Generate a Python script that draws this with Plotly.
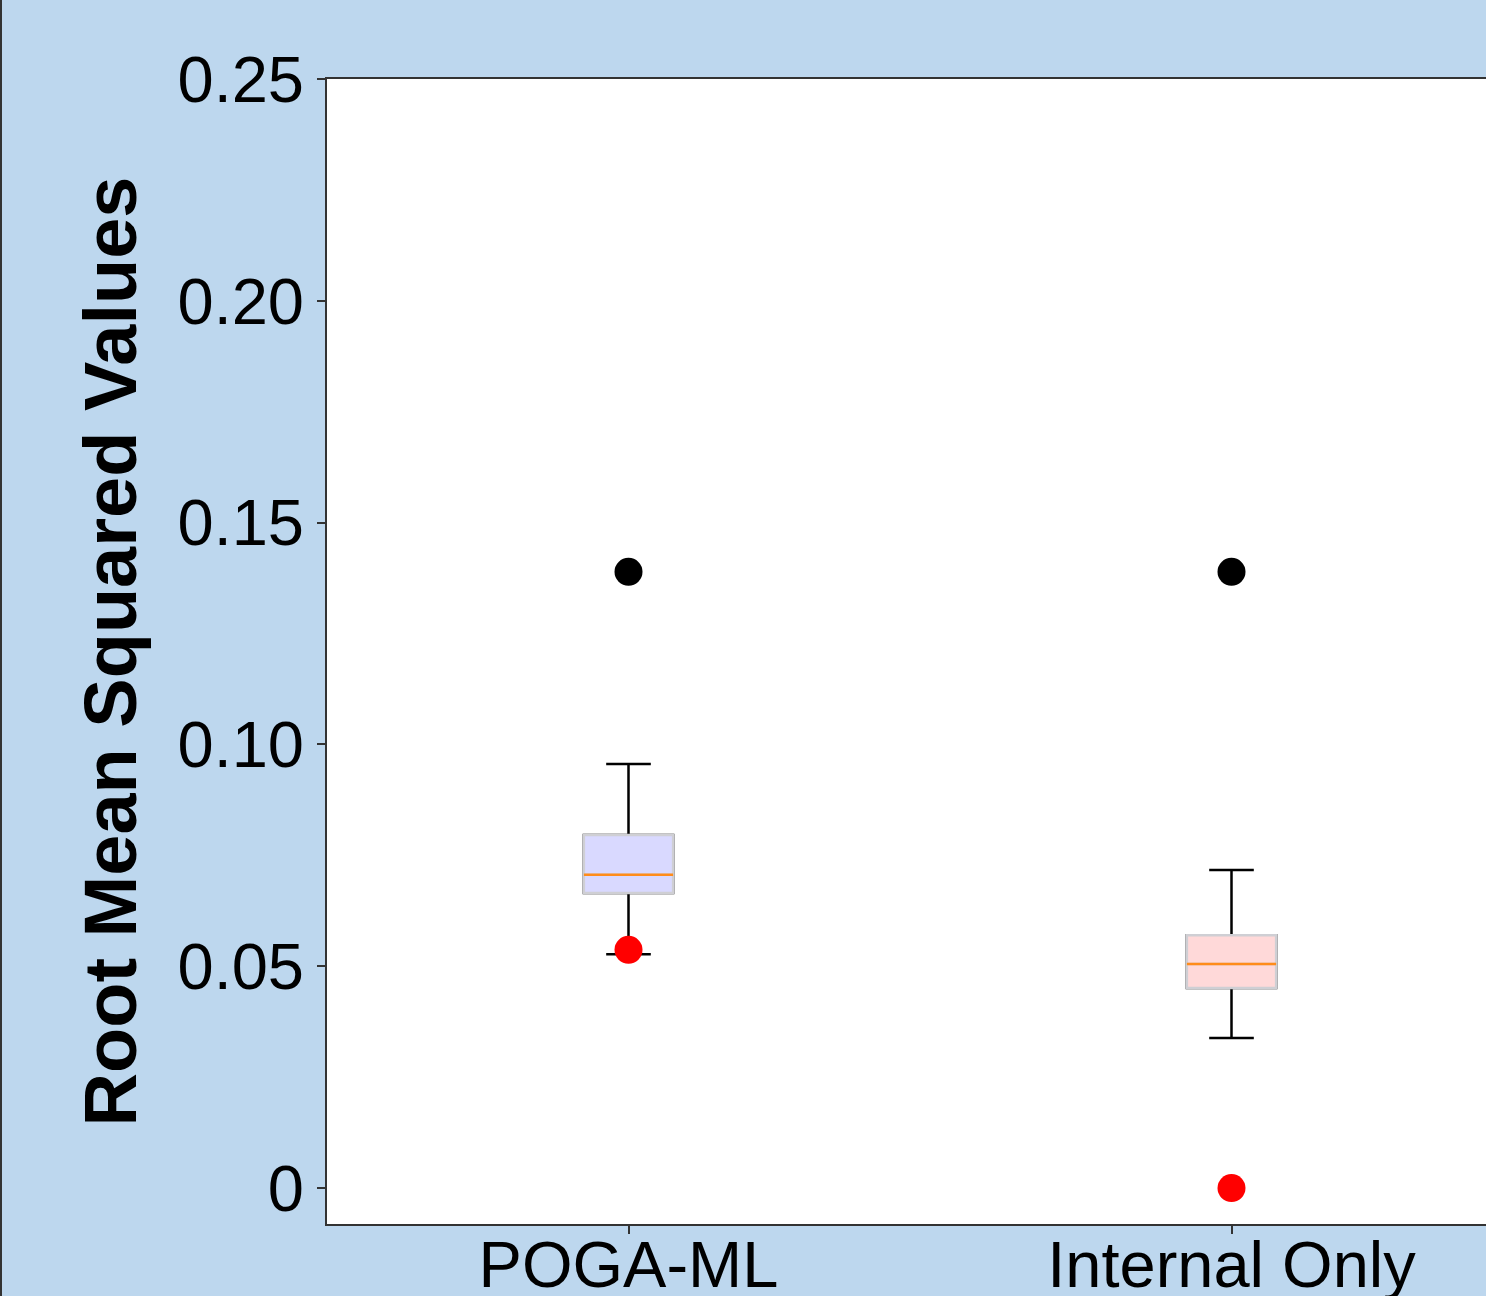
import plotly.graph_objects as go

# ---- data ----
categories = ["POGA-ML", "Internal Only"]
positions = [1, 2]
q1_vals = [0.0665, 0.0451]
median_vals = [0.0706, 0.0505]
q3_vals = [0.0796, 0.0570]
lower_whisker = [0.0527, 0.0338]
upper_whisker = [0.0956, 0.0717]
black_points = [0.1389, 0.1389]
red_points = [0.0537, 0.0]
box_fills = ["#D9D9FF", "#FFD9D9"]
ytick_vals = [0, 0.05, 0.10, 0.15, 0.20, 0.25]
ytick_text = ["0", "0.05", "0.10", "0.15", "0.20", "0.25"]

BOX_W = 0.148
BG = "#BDD7EE"
FONT = "Liberation Sans, Arial, sans-serif"

fig = go.Figure()

# red points (below boxes)
fig.add_trace(go.Scatter(x=positions, y=red_points, mode="markers",
                         marker=dict(color="#FF0000", size=28), showlegend=False,
                         hoverinfo="skip"))

for i in range(len(categories)):
    # whiskers (black)
    fig.add_trace(go.Box(x=[positions[i]], q1=[q1_vals[i]], median=[median_vals[i]],
                         q3=[q3_vals[i]], lowerfence=[lower_whisker[i]],
                         upperfence=[upper_whisker[i]], width=BOX_W, whiskerwidth=0.5,
                         line=dict(color="black", width=2.5), fillcolor="rgba(0,0,0,0)",
                         showlegend=False, boxpoints=False))
    # box body (gray edge, filled)
    fig.add_trace(go.Box(x=[positions[i]], q1=[q1_vals[i]], median=[median_vals[i]],
                         q3=[q3_vals[i]], lowerfence=[q1_vals[i]],
                         upperfence=[q3_vals[i]], width=BOX_W, whiskerwidth=0,
                         line=dict(color="#CFCFD4", width=2.5), fillcolor=box_fills[i],
                         showlegend=False, boxpoints=False))
    # median line (orange)
    fig.add_trace(go.Scatter(x=[positions[i] - BOX_W / 2, positions[i] + BOX_W / 2],
                             y=[median_vals[i], median_vals[i]], mode="lines",
                             line=dict(color="#FF8C1A", width=2.5), showlegend=False,
                             hoverinfo="skip"))

# black points
fig.add_trace(go.Scatter(x=positions, y=black_points, mode="markers",
                         marker=dict(color="black", size=28), showlegend=False,
                         hoverinfo="skip"))

L, T, R, B = 327, 79, 0, 72
W, H = 1486, 1296
plot_w = W - L - R
plot_h = H - T - B
unit_px = 603

fig.update_layout(
    width=W, height=H,
    margin=dict(l=L, r=R, t=T, b=B, pad=0, autoexpand=False),
    paper_bgcolor=BG, plot_bgcolor="white",
    boxmode="overlay",
    font=dict(family=FONT, color="black", size=64),
    xaxis=dict(range=[0.5, 0.5 + plot_w / unit_px], tickvals=positions, ticktext=categories,
               showgrid=False, zeroline=False, showline=True, linecolor="#333333",
               linewidth=2, mirror=True, ticks="outside", ticklen=8, tickwidth=1.5,
               tickcolor="#333333", tickfont=dict(size=65, family=FONT),
               ticklabelstandoff=-25, automargin=False),
    yaxis=dict(range=[-0.0081, 0.25], tickvals=ytick_vals, ticktext=ytick_text,
               showgrid=False, zeroline=False, showline=True, linecolor="#333333",
               linewidth=2, ticks="outside", ticklen=8, tickwidth=1.5,
               tickcolor="#333333", tickfont=dict(size=65, family=FONT),
               ticklabelstandoff=0, automargin=False,
               title=dict(text="<b>Root Mean Squared Values</b>",
                          font=dict(size=74, family=FONT), standoff=17)),
)

# left border line of the image
fig.add_shape(type="line", xref="paper", yref="paper",
              x0=-(L - 1) / plot_w, x1=-(L - 1) / plot_w, y0=-B / plot_h,
              y1=1 + T / plot_h, line=dict(color="#333333", width=2))

fig.write_html("out.html")
